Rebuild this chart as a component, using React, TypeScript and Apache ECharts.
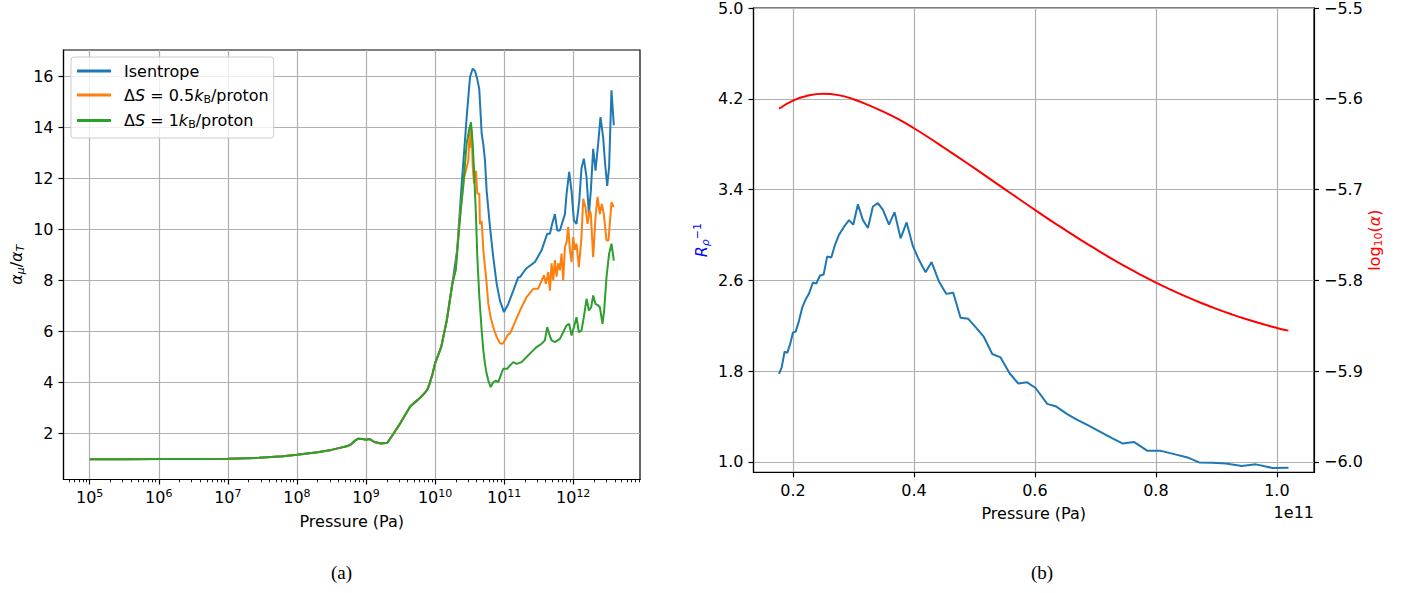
import React, { useEffect, useRef } from "react";
import * as echarts from "echarts";

const FONT = "DejaVu Sans";

// ---------- Panel (a): alpha_mu / alpha_T vs pressure (log10 Pa) ----------
const commonLogP = [5.0, 5.5, 6.0, 6.5, 7.0, 7.45, 7.8, 8.0, 8.3, 8.5, 8.62, 8.72, 8.78, 8.84, 8.89, 8.95, 9.0, 9.05, 9.12, 9.22, 9.31, 9.4, 9.5, 9.64, 9.75, 9.82, 9.89, 9.92, 9.96, 10.0, 10.09, 10.17, 10.25];
const commonValue = [0.99, 0.99, 1.0, 1.0, 1.01, 1.05, 1.11, 1.17, 1.27, 1.36, 1.44, 1.5, 1.57, 1.72, 1.8, 1.79, 1.76, 1.79, 1.67, 1.61, 1.64, 2.0, 2.42, 3.06, 3.32, 3.5, 3.72, 3.95, 4.3, 4.75, 5.4, 6.44, 7.87];

const isentropeLogP = [10.32, 10.386, 10.458, 10.506, 10.545, 10.58, 10.61, 10.64, 10.66, 10.675, 10.7, 10.723, 10.747, 10.795, 10.843, 10.892, 10.94, 10.998, 11.06, 11.133, 11.205, 11.23, 11.316, 11.446, 11.542, 11.624, 11.663, 11.696, 11.735, 11.769, 11.807, 11.88, 11.904, 11.942, 11.976, 12.01, 12.048, 12.087, 12.12, 12.154, 12.193, 12.227, 12.255, 12.289, 12.323, 12.361, 12.395, 12.434, 12.458, 12.492, 12.52, 12.554, 12.588];
const isentropeValue = [9.2, 11.79, 14.4, 15.97, 16.3, 16.2, 15.9, 15.5, 14.5, 13.75, 13.3, 12.7, 11.5, 10.1, 8.9, 7.87, 7.2, 6.76, 7.08, 7.6, 8.13, 8.13, 8.46, 8.72, 9.18, 9.83, 9.83, 10.22, 10.6, 9.96, 9.96, 10.6, 11.4, 12.25, 11.5, 10.35, 10.22, 11.1, 12.4, 12.77, 12.05, 10.6, 11.5, 13.16, 12.3, 13.35, 14.4, 13.6, 12.7, 11.7, 12.45, 15.45, 14.08];

const halfLogP = [10.3, 10.36, 10.42, 10.482, 10.496, 10.506, 10.516, 10.53, 10.545, 10.564, 10.593, 10.612, 10.641, 10.65, 10.675, 10.699, 10.723, 10.747, 10.771, 10.805, 10.843, 10.892, 10.94, 10.978, 11.012, 11.046, 11.094, 11.157, 11.229, 11.325, 11.422, 11.494, 11.542, 11.576, 11.605, 11.639, 11.663, 11.687, 11.711, 11.735, 11.759, 11.783, 11.807, 11.831, 11.855, 11.88, 11.904, 11.928, 11.952, 11.976, 12.0, 12.024, 12.048, 12.082, 12.12, 12.145, 12.178, 12.207, 12.241, 12.255, 12.289, 12.323, 12.352, 12.386, 12.414, 12.443, 12.482, 12.511, 12.554, 12.588];
const halfValue = [8.5, 10.5, 12.0, 12.7, 13.6, 13.95, 13.2, 13.9, 12.45, 11.8, 12.3, 11.4, 11.4, 10.2, 10.33, 9.18, 8.52, 7.87, 7.08, 6.56, 6.17, 5.78, 5.54, 5.52, 5.65, 5.84, 5.97, 6.37, 6.82, 7.35, 7.67, 7.67, 8.0, 8.2, 7.87, 8.33, 7.6, 8.67, 8.0, 8.8, 8.15, 8.67, 8.4, 9.05, 8.0, 9.3, 9.5, 10.1, 9.2, 8.72, 9.7, 9.2, 9.44, 8.52, 9.7, 11.2, 10.87, 10.22, 10.75, 10.6, 8.91, 10.48, 11.27, 10.6, 11.0, 10.6, 9.57, 9.57, 11.07, 10.87];

const oneLogP = [10.3, 10.36, 10.41, 10.458, 10.492, 10.52, 10.545, 10.569, 10.593, 10.612, 10.641, 10.675, 10.699, 10.723, 10.747, 10.771, 10.805, 10.843, 10.882, 10.916, 10.949, 10.988, 11.046, 11.084, 11.133, 11.181, 11.253, 11.325, 11.398, 11.47, 11.542, 11.59, 11.624, 11.653, 11.687, 11.735, 11.807, 11.855, 11.904, 11.942, 11.976, 12.01, 12.048, 12.082, 12.12, 12.154, 12.193, 12.227, 12.26, 12.289, 12.323, 12.361, 12.386, 12.424, 12.448, 12.482, 12.52, 12.554, 12.588];
const oneValue = [8.4, 10.4, 11.8, 13.36, 13.9, 14.2, 13.36, 12.05, 10.48, 8.91, 7.35, 6.04, 5.25, 4.73, 4.34, 4.08, 3.82, 4.01, 4.08, 4.01, 4.27, 4.54, 4.54, 4.67, 4.8, 4.73, 4.8, 5.0, 5.2, 5.39, 5.52, 5.65, 6.17, 5.9, 5.65, 5.58, 5.71, 5.97, 6.24, 6.3, 5.84, 6.17, 6.56, 5.97, 6.04, 6.56, 7.28, 6.82, 6.95, 7.41, 7.08, 7.02, 6.95, 6.3, 6.82, 8.13, 9.05, 9.44, 8.78];

const seriesNamesA = ["Isentrope", "ΔS = 0.5kB/proton", "ΔS = 1kB/proton"];
const leftXTickExps = [5, 6, 7, 8, 9, 10, 11, 12];
const leftYTicks = [2, 4, 6, 8, 10, 12, 14, 16];

// ---------- Panel (b): R_rho^-1 and log10(alpha) vs pressure (1e11 Pa) ----------
const rhoPressure = [0.1769, 0.1813, 0.1862, 0.1906, 0.195, 0.2, 0.2044, 0.2099, 0.2154, 0.2209, 0.2264, 0.233, 0.2386, 0.2446, 0.2507, 0.2567, 0.2634, 0.2694, 0.276, 0.2843, 0.2926, 0.2997, 0.3074, 0.3157, 0.324, 0.3322, 0.3405, 0.3488, 0.3587, 0.368, 0.378, 0.3879, 0.3983, 0.4083, 0.4193, 0.4292, 0.4413, 0.4534, 0.465, 0.4771, 0.4898, 0.503, 0.5157, 0.5295, 0.5433, 0.5581, 0.5725, 0.5873, 0.6011, 0.6204, 0.6342, 0.6534, 0.67, 0.6882, 0.7058, 0.7267, 0.7455, 0.7636, 0.7862, 0.8083, 0.8303, 0.8523, 0.8716, 0.8937, 0.9157, 0.9421, 0.9653, 0.9928, 1.0193];
const rhoInverse = [1.774, 1.83, 1.97, 1.96, 2.03, 2.14, 2.145, 2.24, 2.36, 2.43, 2.48, 2.58, 2.57, 2.64, 2.65, 2.81, 2.8, 2.91, 3.0, 3.07, 3.13, 3.09, 3.27, 3.13, 3.06, 3.25, 3.28, 3.22, 3.09, 3.2, 2.97, 3.11, 2.9, 2.78, 2.67, 2.76, 2.59, 2.48, 2.49, 2.27, 2.26, 2.18, 2.1, 1.95, 1.92, 1.78, 1.69, 1.7, 1.65, 1.51, 1.49, 1.42, 1.37, 1.32, 1.27, 1.21, 1.16, 1.175, 1.096, 1.096, 1.067, 1.038, 0.994, 0.991, 0.985, 0.962, 0.977, 0.945, 0.947];

const alphaPressure = [0.177, 0.2, 0.225, 0.25, 0.275, 0.3, 0.325, 0.35, 0.375, 0.4, 0.425, 0.45, 0.475, 0.5, 0.525, 0.55, 0.575, 0.6, 0.625, 0.65, 0.675, 0.7, 0.725, 0.75, 0.775, 0.8, 0.825, 0.85, 0.875, 0.9, 0.925, 0.95, 0.975, 1.0, 1.019];
const logAlpha = [-5.611, -5.602, -5.5965, -5.5945, -5.596, -5.6005, -5.607, -5.6145, -5.6228, -5.6325, -5.643, -5.654, -5.6652, -5.6765, -5.688, -5.6995, -5.711, -5.7225, -5.7337, -5.7445, -5.7552, -5.7655, -5.7755, -5.785, -5.794, -5.8025, -5.8105, -5.818, -5.825, -5.8315, -5.8375, -5.843, -5.848, -5.8525, -5.8555];

const rightXTicks = [0.2, 0.4, 0.6, 0.8, 1.0];
const rhoTicks = [1.0, 1.8, 2.6, 3.4, 4.2, 5.0];
const alphaTicks = [-6.0, -5.9, -5.8, -5.7, -5.6, -5.5];

const BLUE = "#1f77b4";
const ORANGE = "#ff7f0e";
const GREEN = "#2ca02c";
const RED = "#ff0000";
const GRID_C = "#b0b0b0";

function makeRich(color: string) {
  return {
    n: { fontFamily: FONT, fontSize: 16, color, verticalAlign: "middle" },
    i: { fontFamily: FONT, fontSize: 16, fontStyle: "italic", color, verticalAlign: "middle" },
    sb: { fontFamily: FONT, fontSize: 11, color, verticalAlign: "middle", padding: [8, 0, 0, 0] },
    sbi: { fontFamily: FONT, fontSize: 11, fontStyle: "italic", color, verticalAlign: "middle", padding: [8, 0, 0, 0] },
    sp: { fontFamily: FONT, fontSize: 11, color, verticalAlign: "middle", padding: [0, 0, 9, 0] },
  };
}

const legendRich: Record<string, string> = {
  "Isentrope": "{n|Isentrope}",
  "ΔS = 0.5kB/proton": "{n|Δ}{i|S}{n| = 0.5}{i|k}{sb|B}{n|/proton}",
  "ΔS = 1kB/proton": "{n|Δ}{i|S}{n| = 1}{i|k}{sb|B}{n|/proton}",
};

function pairs(xs: number[], ys: number[]) {
  return xs.map((x, i) => [x, ys[i]]);
}

export default function App() {
  const ref = useRef<HTMLDivElement>(null);
  useEffect(() => {
    if (!ref.current) return;
    const chart = echarts.init(ref.current, undefined, { renderer: "svg" });

    const minorTicks: number[] = [];
    for (let e = 4; e <= 12; e++) {
      for (let k = 2; k <= 9; k++) {
        const v = e + Math.log10(k);
        if (v > 4.621 && v < 12.967) minorTicks.push(v);
      }
    }

    const tickLabel = { color: "#000", fontFamily: FONT, fontSize: 16 };
    const tickLine = { color: "#000", width: 1.2 };
    const axisLine = { show: true, onZero: false, lineStyle: { color: "#000", width: 1.2 } };
    const split = { show: true, lineStyle: { color: GRID_C, width: 1.2 } };

    const option: any = {
      animation: false,
      backgroundColor: "#fff",
      grid: [
        { left: 63.5, top: 50, width: 576.5, height: 429.5, show: true, borderColor: "#000", borderWidth: 1.2, backgroundColor: "transparent" },
        { left: 753.5, top: 5, width: 560.5, height: 467.3, show: true, borderColor: "#000", borderWidth: 1.2, backgroundColor: "transparent" },
      ],
      legend: {
        data: seriesNamesA,
        left: 71,
        top: 57,
        orient: "vertical",
        backgroundColor: "rgba(255,255,255,0.8)",
        borderColor: "#cccccc",
        borderWidth: 1,
        borderRadius: 3,
        padding: [6, 5, 8, 6],
        itemWidth: 34,
        itemHeight: 3,
        itemGap: 8,
        icon: "rect",
        textStyle: { fontFamily: FONT, fontSize: 16, color: "#000", padding: [0, 0, 0, 8], rich: makeRich("#000") },
        formatter: (name: string) => legendRich[name] || name,
      },
      xAxis: [
        {
          type: "value",
          gridIndex: 0,
          min: 4.621,
          max: 12.967,
          axisLine,
          axisTick: { show: true, length: 5, customValues: leftXTickExps, lineStyle: tickLine },
          axisLabel: {
            customValues: leftXTickExps,
            margin: 8,
            ...tickLabel,
            formatter: (v: number) => "{b|10}{s|" + Math.round(v) + "}",
            rich: {
              b: { fontFamily: FONT, fontSize: 16, color: "#000", verticalAlign: "middle" },
              s: { fontFamily: FONT, fontSize: 11, color: "#000", verticalAlign: "middle", padding: [0, 0, 9, 0] },
            },
          },
          splitLine: split,
          name: "Pressure (Pa)",
          nameLocation: "middle",
          nameGap: 34,
          nameTextStyle: { ...tickLabel },
        },
        {
          type: "value",
          gridIndex: 0,
          position: "bottom",
          min: 4.621,
          max: 12.967,
          axisLine: { show: false },
          axisTick: { show: true, length: 2.8, customValues: minorTicks, lineStyle: { color: "#000", width: 0.9 } },
          axisLabel: { show: false },
          splitLine: { show: false },
        },
        {
          type: "value",
          gridIndex: 1,
          min: 0.1348,
          max: 1.0614,
          axisLine,
          axisTick: { show: true, length: 5, customValues: rightXTicks, lineStyle: tickLine },
          axisLabel: { customValues: rightXTicks, margin: 10, ...tickLabel, formatter: (v: number) => v.toFixed(1) },
          splitLine: split,
          name: "Pressure (Pa)",
          nameLocation: "middle",
          nameGap: 33,
          nameTextStyle: { ...tickLabel },
        },
      ],
      yAxis: [
        {
          type: "value",
          gridIndex: 0,
          min: 0.2,
          max: 17.03,
          axisLine,
          axisTick: { show: true, length: 5, customValues: leftYTicks, lineStyle: tickLine },
          axisLabel: { customValues: leftYTicks, margin: 10, ...tickLabel },
          splitLine: split,
          name: "{i|α}{sbi|μ}{n|/}{i|α}{sbi|T}",
          nameLocation: "middle",
          nameGap: 38,
          nameTextStyle: { rich: makeRich("#000") },
        },
        {
          type: "value",
          gridIndex: 1,
          position: "left",
          min: 0.907,
          max: 5.0,
          axisLine,
          axisTick: { show: true, length: 5, customValues: rhoTicks, lineStyle: tickLine },
          axisLabel: { customValues: rhoTicks, margin: 10, ...tickLabel, formatter: (v: number) => v.toFixed(1) },
          splitLine: split,
          name: "{i|R}{sbi|ρ}{sp|−1}",
          nameLocation: "middle",
          nameGap: 42,
          nameTextStyle: { rich: makeRich("#0000ff") },
        },
        {
          type: "value",
          gridIndex: 1,
          position: "right",
          min: -6.0116,
          max: -5.5,
          axisLine,
          axisTick: { show: true, length: 5, customValues: alphaTicks, lineStyle: tickLine },
          axisLabel: {
            customValues: alphaTicks,
            margin: 10,
            ...tickLabel,
            formatter: (v: number) => v.toFixed(1).replace("-", "\u2212"),
          },
          splitLine: { show: false },
          name: "{n|log}{sb|10}{n|(}{i|α}{n|)}",
          nameLocation: "middle",
          nameGap: 30,
          nameTextStyle: { rich: makeRich(RED) },
        },
      ],
      series: [
        {
          name: seriesNamesA[0],
          type: "line",
          xAxisIndex: 0,
          yAxisIndex: 0,
          showSymbol: false,
          color: BLUE,
          lineStyle: { color: BLUE, width: 2 },
          data: pairs([...commonLogP, ...isentropeLogP], [...commonValue, ...isentropeValue]),
        },
        {
          name: seriesNamesA[1],
          type: "line",
          xAxisIndex: 0,
          yAxisIndex: 0,
          showSymbol: false,
          color: ORANGE,
          lineStyle: { color: ORANGE, width: 2 },
          data: pairs([...commonLogP, ...halfLogP], [...commonValue, ...halfValue]),
        },
        {
          name: seriesNamesA[2],
          type: "line",
          xAxisIndex: 0,
          yAxisIndex: 0,
          showSymbol: false,
          color: GREEN,
          lineStyle: { color: GREEN, width: 2 },
          data: pairs([...commonLogP, ...oneLogP], [...commonValue, ...oneValue]),
        },
        {
          name: "R_rho^-1",
          type: "line",
          xAxisIndex: 2,
          yAxisIndex: 1,
          showSymbol: false,
          color: BLUE,
          lineStyle: { color: BLUE, width: 2 },
          data: pairs(rhoPressure, rhoInverse),
        },
        {
          name: "log10(alpha)",
          type: "line",
          xAxisIndex: 2,
          yAxisIndex: 2,
          showSymbol: false,
          smooth: true,
          color: RED,
          lineStyle: { color: RED, width: 2 },
          data: pairs(alphaPressure, logAlpha),
        },
      ],
      graphic: [
        { type: "text", right: 1416 - 1314, top: 504, style: { text: "1e11", font: `16px "${FONT}"`, fill: "#000" } },
        { type: "text", left: 331, top: 563, style: { text: "(a)", font: '19px "Liberation Serif"', fill: "#000" } },
        { type: "text", left: 1031, top: 563, style: { text: "(b)", font: '19px "Liberation Serif"', fill: "#000" } },
      ],
    };
    chart.setOption(option);
    return () => chart.dispose();
  }, []);
  return <div ref={ref} style={{ position: "fixed", left: 0, top: 0, width: 1416, height: 593 }} />;
}
